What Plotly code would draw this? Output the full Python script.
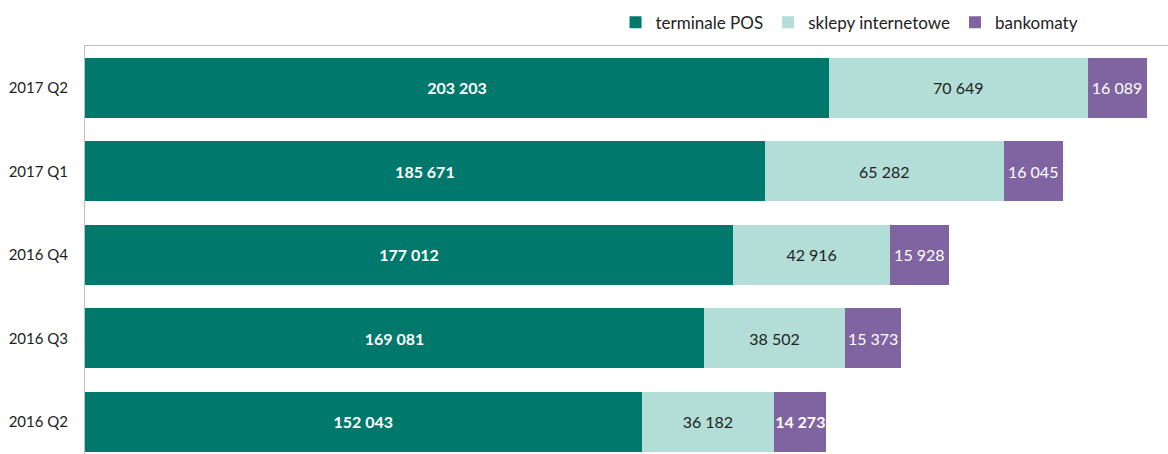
import plotly.graph_objects as go

# Quarterly counts per channel
quarters = ["2016 Q2", "2016 Q3", "2016 Q4", "2017 Q1", "2017 Q2"]
terminale_pos = [152043, 169081, 177012, 185671, 203203]
sklepy_internetowe = [36182, 38502, 42916, 65282, 70649]
bankomaty = [14273, 15373, 15928, 16045, 16089]

series_names = ["terminale POS", "sklepy internetowe", "bankomaty"]
colors = ["#00786C", "#B3DDD7", "#8064A2"]
label_colors = ["white", "#222222", "white"]
bold_pos = [True, True, True, True, True]
bold_atm = [True, False, False, False, False]
bold_www = [False] * 5


def fmt(v, bold):
    s = f"{v:,}".replace(",", " ")
    return f"<b>{s}</b>" if bold else s


FONT = "Lato, 'Open Sans', sans-serif"

fig = go.Figure()
for name, vals, col, lcol, bolds in zip(
    series_names,
    [terminale_pos, sklepy_internetowe, bankomaty],
    colors,
    label_colors,
    [bold_pos, bold_www, bold_atm],
):
    fig.add_trace(
        go.Bar(
            y=quarters,
            x=vals,
            name=name,
            orientation="h",
            marker=dict(color=col, line=dict(width=0)),
            text=[fmt(v, b) for v, b in zip(vals, bolds)],
            textposition="inside",
            insidetextanchor="middle",
            textangle=0,
            constraintext="none",
            textfont=dict(color=lcol, size=16, family=FONT),
            hoverinfo="skip",
        )
    )

fig.update_layout(
    barmode="stack",
    bargap=0.28,
    width=1168,
    height=454,
    margin=dict(l=85, r=0, t=46, b=0),
    paper_bgcolor="white",
    plot_bgcolor="white",
    font=dict(family=FONT, size=15, color="#222222"),
    showlegend=True,
    legend=dict(
        orientation="h",
        x=0.527,
        xref="container",
        xanchor="left",
        y=0.95,
        yref="container",
        yanchor="middle",
        font=dict(size=17, family=FONT, color="#222222"),
        traceorder="normal",
        itemwidth=30,
        bgcolor="rgba(0,0,0,0)",
    ),
    xaxis=dict(
        range=[0, 295800],
        side="top",
        showline=True,
        linecolor="#BFBFBF",
        linewidth=1,
        showgrid=False,
        showticklabels=False,
        ticks="",
        zeroline=False,
    ),
    yaxis=dict(
        range=[-0.386, 4.5],
        showline=True,
        linecolor="#BFBFBF",
        linewidth=1,
        showgrid=False,
        ticks="outside",
        ticklen=13,
        tickcolor="rgba(0,0,0,0)",
        tickfont=dict(size=15, family=FONT, color="#222222"),
    ),
)

fig.write_html("out.html")
